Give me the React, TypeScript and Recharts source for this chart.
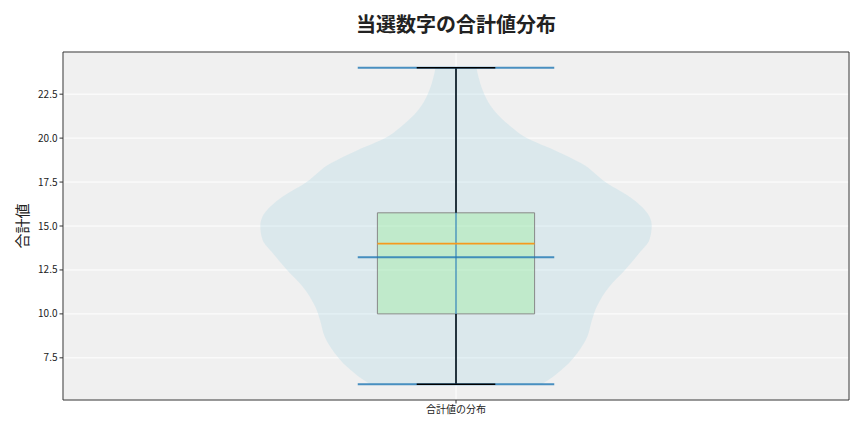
import { ComposedChart, Area, XAxis, YAxis, CartesianGrid, ReferenceArea, ReferenceLine } from 'recharts';

// violin outline: value on the y axis, half width (x units) at that value
const violinValues = [6, 6.25, 7, 7.75, 8.7, 9.65, 10.4, 11.55, 12.5, 13.45, 14.2, 15, 15.55, 16.5, 17.5, 18.55, 19.3, 20, 20.65, 21.6, 22.5, 23.1, 24];
const violinHalfWidths = [0.109, 0.118, 0.139, 0.154, 0.167, 0.173, 0.179, 0.195, 0.215, 0.233, 0.246, 0.249, 0.246, 0.226, 0.19, 0.16, 0.126, 0.09, 0.07, 0.048, 0.036, 0.031, 0.026];

// box plot stats
const boxStats = { min: 6, q1: 10, median: 14, q3: 15.75, max: 24 };
const meanValue = 13.22;

const yTicks = [7.5, 10, 12.5, 15, 17.5, 20, 22.5];
const categoryLabel = '合計値の分布';
const POS = 1;

const violinData = violinValues.map((v, i) => ({
  v,
  range: [POS - violinHalfWidths[i], POS + violinHalfWidths[i]],
}));

const FONT = '"Noto Sans CJK JP", "Noto Sans", sans-serif';
const BLUE = '#1f77b4';

export default function App() {
  return (
    <div style={{ position: 'absolute', left: 0, top: 0, width: 864, height: 432, background: '#fff', fontFamily: FONT }}>
      <div style={{ position: 'absolute', left: 63, width: 786, top: 9, textAlign: 'center', fontSize: 20, fontWeight: 'bold', color: '#222' }}>
        当選数字の合計値分布
      </div>
      <div style={{ position: 'absolute', left: 21, top: 226, transform: 'translate(-50%, -50%) rotate(-90deg)', fontSize: 15, color: '#222', whiteSpace: 'nowrap' }}>
        合計値
      </div>
      <ComposedChart
        width={864}
        height={432}
        layout="vertical"
        data={violinData}
        margin={{ top: 52, right: 15, left: 0, bottom: 0 }}
      >
        <CartesianGrid fill="#f0f0f0" stroke="#ffffff" strokeWidth={1} />
        <XAxis
          type="number"
          domain={[0.5, 1.5]}
          ticks={[POS]}
          tickFormatter={() => categoryLabel}
          height={32}
          axisLine={false}
          tickLine={{ stroke: '#333' }}
          tickSize={3.5}
          tick={{ fontSize: 10, fill: '#222', fontFamily: FONT }}
        />
        <YAxis
          type="number"
          dataKey="v"
          reversed
          domain={[5.1, 24.9]}
          ticks={yTicks}
          tickFormatter={(t: number) => t.toFixed(1)}
          width={63}
          axisLine={false}
          tickLine={{ stroke: '#333' }}
          tickSize={3.5}
          tick={{ fontSize: 10, fill: '#222', fontFamily: FONT }}
        />
        <Area
          dataKey="range"
          type="monotoneY"
          fill="#add8e6"
          fillOpacity={0.3}
          stroke="none"
          isAnimationActive={false}
          dot={false}
          activeDot={false}
        />
        <ReferenceArea x1={POS - 0.1} x2={POS + 0.1} y1={boxStats.q1} y2={boxStats.q3} fill="#90ee90" fillOpacity={0.35} stroke="#888" strokeWidth={1} ifOverflow="visible" />
        <ReferenceLine segment={[{ x: POS, y: boxStats.min }, { x: POS, y: boxStats.max }]} stroke={BLUE} strokeOpacity={0.6} strokeWidth={1.8} ifOverflow="visible" />
        <ReferenceLine segment={[{ x: POS, y: boxStats.q3 }, { x: POS, y: boxStats.max }]} stroke="#000" strokeWidth={1.4} ifOverflow="visible" />
        <ReferenceLine segment={[{ x: POS, y: boxStats.min }, { x: POS, y: boxStats.q1 }]} stroke="#000" strokeWidth={1.4} ifOverflow="visible" />
        <ReferenceLine segment={[{ x: POS - 0.125, y: boxStats.max }, { x: POS + 0.125, y: boxStats.max }]} stroke={BLUE} strokeOpacity={0.8} strokeWidth={2} ifOverflow="visible" />
        <ReferenceLine segment={[{ x: POS - 0.125, y: boxStats.min }, { x: POS + 0.125, y: boxStats.min }]} stroke={BLUE} strokeOpacity={0.8} strokeWidth={2} ifOverflow="visible" />
        <ReferenceLine segment={[{ x: POS - 0.05, y: boxStats.max }, { x: POS + 0.05, y: boxStats.max }]} stroke="#000" strokeWidth={1.4} ifOverflow="visible" />
        <ReferenceLine segment={[{ x: POS - 0.05, y: boxStats.min }, { x: POS + 0.05, y: boxStats.min }]} stroke="#000" strokeWidth={1.4} ifOverflow="visible" />
        <ReferenceLine segment={[{ x: POS - 0.1, y: boxStats.median }, { x: POS + 0.1, y: boxStats.median }]} stroke="#f59a1e" strokeWidth={1.6} ifOverflow="visible" />
        <ReferenceLine segment={[{ x: POS - 0.125, y: meanValue }, { x: POS + 0.125, y: meanValue }]} stroke={BLUE} strokeOpacity={0.8} strokeWidth={2} ifOverflow="visible" />
        <ReferenceArea x1={0.5} x2={1.5} y1={5.1} y2={24.9} fill="none" stroke="#333" strokeWidth={1} ifOverflow="visible" />
      </ComposedChart>
    </div>
  );
}
